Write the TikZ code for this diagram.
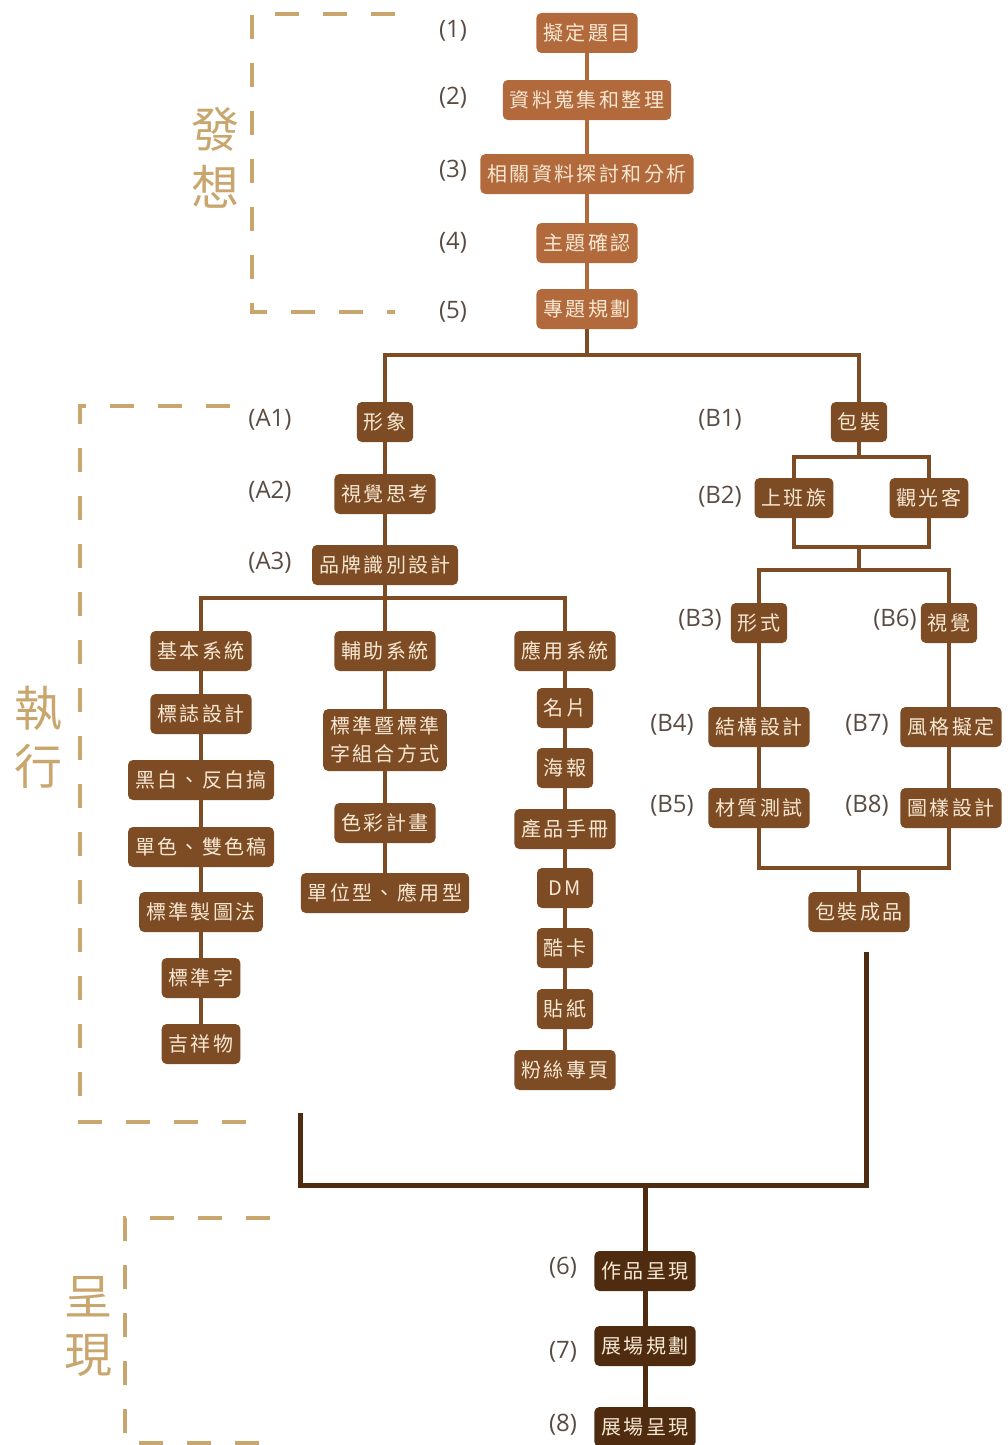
\documentclass[tikz,border=0pt]{standalone}
\usepackage{fontspec}
\setmainfont{Open Sans}
\newfontfamily\cjk[LetterSpace=12]{Noto Sans CJK TC}
\newfontfamily\cjkside{Noto Sans CJK TC}
\usetikzlibrary{backgrounds}
\definecolor{ctop}{HTML}{B26A3D}
\definecolor{cmid}{HTML}{7E4C24}
\definecolor{cbot}{HTML}{4F2C10}
\definecolor{boxtext}{HTML}{F7E8D3}
\definecolor{cdash}{HTML}{C9A66E}
\definecolor{clabel}{HTML}{5A4B42}
\begin{document}
\begin{tikzpicture}[x=1pt,y=-1pt,
  box/.style={rounded corners=5pt, inner xsep=7pt, inner ysep=0pt, minimum height=40pt,
    text=boxtext, font=\cjk\fontsize{20}{28}\selectfont, align=center},
  topbox/.style={box, fill=ctop},
  midbox/.style={box, fill=cmid},
  botbox/.style={box, fill=cbot},
  lbl/.style={text=clabel, font=\fontsize{24}{28}\selectfont, inner sep=0pt},
  side/.style={text=cdash, font=\cjkside\fontsize{48}{58}\selectfont, align=center, inner sep=0pt},
  topline/.style={draw=ctop, line width=4pt},
  midline/.style={draw=cmid, line width=4pt},
  darkline/.style={draw=cbot, line width=5pt},
  dashbox/.style={draw=cdash, line width=4pt, dash pattern=on 24pt off 24pt}]
\useasboundingbox (0,0) rectangle (1007,1445);

% ---------- 發想 ----------
\node[topbox] (t1) at (587,33) {擬定題目};
\node[topbox] (t2) at (587,100) {資料蒐集和整理};
\node[topbox] (t3) at (587,174) {相關資料探討和分析};
\node[topbox] (t4) at (587,243) {主題確認};
\node[topbox] (t5) at (587,309) {專題規劃};
\node[lbl] (l1) at (453,31) {(1)};
\node[lbl] (l2) at (453,98) {(2)};
\node[lbl] (l3) at (453,171) {(3)};
\node[lbl] (l4) at (453,243) {(4)};
\node[lbl] (l5) at (453,312) {(5)};
\node[side] (s1) at (215,158) {發\\想};

% ---------- 執行 : A ----------
\node[midbox] (a1) at (385,422) {形象};
\node[midbox] (a2) at (385,494) {視覺思考};
\node[midbox] (a3) at (385,565) {品牌識別設計};
\node[lbl] (la1) at (270,420) {(A1)};
\node[lbl] (la2) at (270,492) {(A2)};
\node[lbl] (la3) at (270,563) {(A3)};

\node[midbox] (c1) at (201,651) {基本系統};
\node[midbox] (c2) at (201,714) {標誌設計};
\node[midbox] (c3) at (201,780) {黑白、反白搞};
\node[midbox] (c4) at (201,847) {單色、雙色稿};
\node[midbox] (c5) at (201,912) {標準製圖法};
\node[midbox] (c6) at (201,978) {標準字};
\node[midbox] (c7) at (201,1044) {吉祥物};

\node[midbox] (d1) at (385,651) {輔助系統};
\node[midbox, minimum height=62pt] (d2) at (385,740) {標準暨標準\\字組合方式};
\node[midbox] (d3) at (385,823) {色彩計畫};
\node[midbox] (d4) at (385,893) {單位型、應用型};

\node[midbox] (e1) at (565,651) {應用系統};
\node[midbox] (e2) at (565,708) {名片};
\node[midbox] (e3) at (565,768) {海報};
\node[midbox] (e4) at (565,829) {產品手冊};
\node[midbox, minimum width=56pt] (e5) at (565,888) {DM};
\node[midbox] (e6) at (565,948) {酷卡};
\node[midbox] (e7) at (565,1009) {貼紙};
\node[midbox] (e8) at (565,1070) {粉絲專頁};

% ---------- 執行 : B ----------
\node[midbox] (b1) at (859,422) {包裝};
\node[midbox] (b2a) at (794,498) {上班族};
\node[midbox] (b2b) at (929,498) {觀光客};
\node[midbox] (b3) at (759,623) {形式};
\node[midbox] (b4) at (759,727) {結構設計};
\node[midbox] (b5) at (759,808) {材質測試};
\node[midbox] (b6) at (949,623) {視覺};
\node[midbox] (b7) at (951,727) {風格擬定};
\node[midbox] (b8) at (951,808) {圖樣設計};
\node[midbox] (bp) at (859,912) {包裝成品};
\node[lbl] (lb1) at (720,420) {(B1)};
\node[lbl] (lb2) at (720,497) {(B2)};
\node[lbl] (lb3) at (700,620) {(B3)};
\node[lbl] (lb4) at (672,725) {(B4)};
\node[lbl] (lb5) at (672,806) {(B5)};
\node[lbl] (lb6) at (895,620) {(B6)};
\node[lbl] (lb7) at (867,725) {(B7)};
\node[lbl] (lb8) at (867,806) {(B8)};
\node[side] (s2) at (38,737) {執\\行};

% ---------- 呈現 ----------
\node[botbox] (p1) at (645,1271) {作品呈現};
\node[botbox] (p2) at (645,1346) {展場規劃};
\node[botbox] (p3) at (645,1427) {展場呈現};
\node[lbl] (l6) at (563,1268) {(6)};
\node[lbl] (l7) at (563,1352) {(7)};
\node[lbl] (l8) at (563,1425) {(8)};
\node[side] (s3) at (88,1327) {呈\\現};

% ---------- coordinates ----------
\coordinate (j1) at (587,355);
\coordinate (j2) at (385,598);
\coordinate (jb1) at (859,457);
\coordinate (jb2) at (859,547);
\coordinate (jb3) at (859,570);
\coordinate (jb4) at (859,868);
\coordinate (k1) at (866,952);
\coordinate (k2) at (300,1113);
\coordinate (k3) at (645,1185);

\begin{scope}[on background layer]
  % top chain
  \draw[topline] (t1.center) -- (t2.center);
  \draw[topline] (t2.center) -- (t3.center);
  \draw[topline] (t3.center) -- (t4.center);
  \draw[topline] (t4.center) -- (t5.center);
  \draw[midline] (t5.center) -- (j1);
  \draw[midline] (a1.center) |- (j1) -| (b1.center);
  % A
  \draw[midline] (a1.center) -- (a2.center);
  \draw[midline] (a2.center) -- (a3.center);
  \draw[midline] (a3.center) -- (j2);
  \draw[midline] (c1.center) |- (j2) -| (e1.center);
  \draw[midline] (j2) -- (d1.center);
  \foreach \u/\v in {c1/c2,c2/c3,c3/c4,c4/c5,c5/c6,c6/c7,d1/d2,d2/d3,d3/d4,
                     e1/e2,e2/e3,e3/e4,e4/e5,e5/e6,e6/e7,e7/e8}
    \draw[midline] (\u.center) -- (\v.center);
  % B
  \draw[midline] (b1.center) -- (jb1);
  \draw[midline] (b2a.center) |- (jb1) -| (b2b.center);
  \draw[midline] (b2a.center) |- (jb2) -| (b2b.center);
  \draw[midline] (jb2) -- (jb3);
  \draw[midline] (b3.center) |- (jb3) -| (b6.center);
  \draw[midline] (b3.center) -- (b4.center);
  \draw[midline] (b4.center) -- (b5.center);
  \draw[midline] (b6.center) -- (b6.center |- b8.center);
  \draw[midline] (b5.center) |- (jb4) -| (b6.center |- b8.center);
  \draw[midline] (jb4) -- (bp.center);
  % final
  \draw[darkline] (k1) |- (k3) -| (k2);
  \draw[darkline] (k3) -- (p1.center);
  \draw[darkline] (p1.center) -- (p2.center);
  \draw[darkline] (p2.center) -- (p3.center);
\end{scope}

% ---------- dashed brackets ----------
\draw[dashbox] (395,14) -- (252,14) -- (252,312) -- (395,312);
\draw[dashbox] (230,406) -- (80,406) -- (80,1122) -- (252,1122);
\draw[dashbox] (270,1218) -- (125,1218) -- (125,1443) -- (270,1443);
\end{tikzpicture}
\end{document}
